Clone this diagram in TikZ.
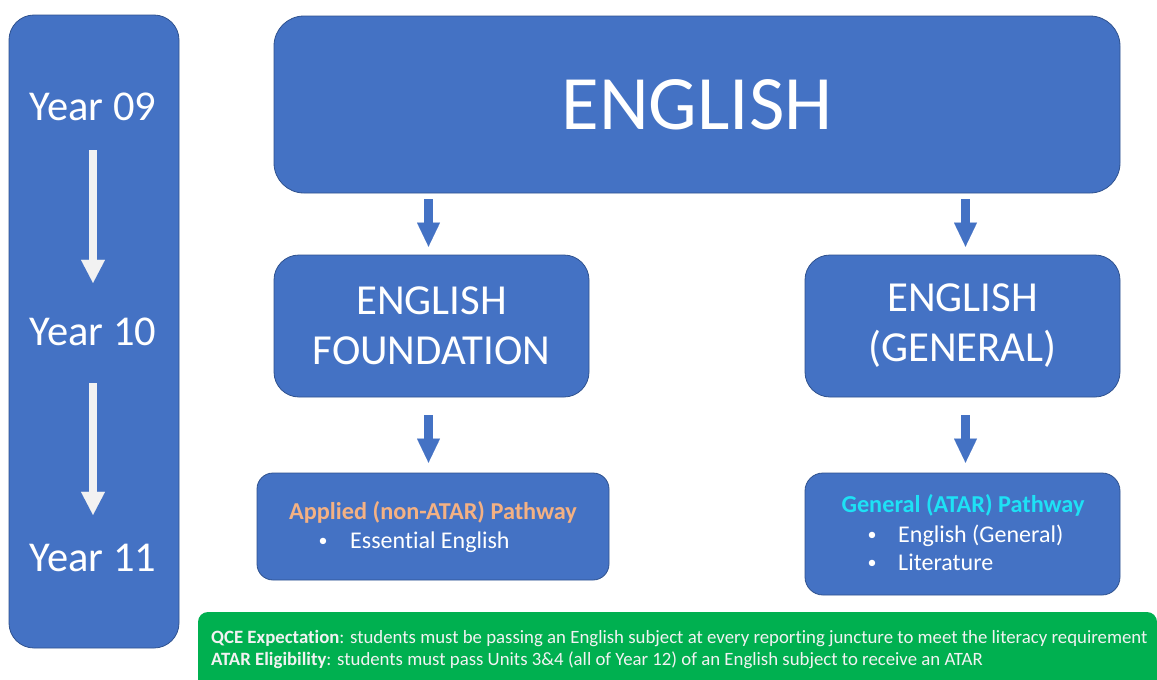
\documentclass[tikz,border=0pt]{standalone}
\usepackage{fontspec}
\setmainfont{Carlito}[Ligatures=NoCommon]
\usetikzlibrary{arrows.meta}
\definecolor{obl}{HTML}{4472C4}
\definecolor{obd}{HTML}{2F528F}
\definecolor{ogr}{HTML}{00B050}
\definecolor{peach}{HTML}{F4B183}
\definecolor{cyanx}{RGB}{30,225,245}
\definecolor{offw}{HTML}{F2F2F2}
\begin{document}
\begin{tikzpicture}[x=1pt,y=-1pt,
 box/.style={fill=obl, draw=obd, line width=0.8pt, text=white, align=center, inner sep=0pt},
 yr/.style={text=white, inner sep=0pt, text height=26pt, text depth=0pt, font=\fontsize{42.5}{50}\selectfont},
 warrow/.style={draw=offw, line width=8pt, -{Triangle[width=24pt,length=23pt,line width=0.01pt]}},
 barrow/.style={draw=obl, line width=9pt, -{Triangle[width=23pt,length=24pt,line width=0.01pt]}},
 hd/.style={inner sep=0pt, font=\bfseries\fontsize{24.3}{28}\selectfont},
 it/.style={inner sep=0pt, text=white, font=\fontsize{24}{28}\selectfont},
 bul/.style={inner sep=0pt, text=white, font=\fontsize{18}{20}\selectfont},
 nt/.style={inner sep=0pt, text=offw, font=\fontsize{18.8}{22}\selectfont},
]
\useasboundingbox (0,0) rectangle (1157,680);
\clip (0,0) rectangle (1157,680);
\fill[white] (0,0) rectangle (1157,680);

% left year column
\node[box, minimum width=170pt, minimum height=633pt, rounded corners=25pt] (col) at (94,331.5) {};
\node[yr, anchor=base] (y09) at (93,120) {Year 09};
\node[yr, anchor=base] (y10) at (93,345) {Year 10};
\node[yr, anchor=base] (y11) at (93,571) {Year 11};
\draw[warrow] ([yshift=-30pt]y09.south) -- ([yshift=36pt]y10.north);
\draw[warrow] ([yshift=-38pt]y10.south) -- ([yshift=30pt]y11.north);

% main boxes
\node[box, minimum width=846pt, minimum height=177pt, rounded corners=30pt,
      font=\fontsize{77}{84}\selectfont] (eng) at (697,104.5) {ENGLISH};
\node[box, minimum width=315pt, minimum height=142pt, rounded corners=25pt,
      font=\fontsize{42.8}{50}\selectfont] (found) at (431.5,326) {ENGLISH\\FOUNDATION};
\node[box, minimum width=315pt, minimum height=142pt, rounded corners=25pt,
      font=\fontsize{42.8}{50}\selectfont] (gen) at (962.5,326) {ENGLISH\\(GENERAL)};
\node[box, minimum width=352pt, minimum height=107pt, rounded corners=16pt] (app) at (433,526.5) {};
\node[box, minimum width=315pt, minimum height=122pt, rounded corners=18pt] (genp) at (962.5,534) {};

% pathway texts
\node[hd, text=peach, anchor=base] (apph) at (433,519) {Applied (non-ATAR) Pathway};
\node[bul, anchor=base] (appb) at (323,546) {•};
\node[it, anchor=base west] (appi) at (350,548) {Essential English};
\node[hd, text=cyanx, anchor=base] (genh) at (963,512) {General (ATAR) Pathway};
\node[bul, anchor=base] (genb1) at (872,540) {•};
\node[it, anchor=base west] (geni1) at (898,542) {English (General)};
\node[bul, anchor=base] (genb2) at (872,568) {•};
\node[it, anchor=base west] (geni2) at (898,570) {Literature};

% blue arrows
\draw[barrow] ([xshift=-3pt,yshift=-6pt]found.north |- eng.south) -- ([xshift=-3pt,yshift=8pt]found.north);
\draw[barrow] ([xshift=3pt,yshift=-6pt]gen.north |- eng.south) -- ([xshift=3pt,yshift=8pt]gen.north);
\draw[barrow] ([xshift=-3pt,yshift=-18pt]found.south) -- ([xshift=-3pt,yshift=10pt]found.south |- app.north);
\draw[barrow] ([xshift=3pt,yshift=-18pt]gen.south) -- ([xshift=3pt,yshift=10pt]genp.north);

% green note
\node[fill=ogr, minimum width=959pt, minimum height=100pt, rounded corners=10pt, inner sep=0pt] (note) at (677.5,662) {};
\node[nt, anchor=base west] (n1) at (211,643) {\textbf{QCE Expectation}: students must be passing an English subject at every reporting juncture to meet the literacy requirement};
\node[nt, anchor=base west] (n2) at (211,665.5) {\textbf{ATAR Eligibility}: students must pass Units 3\&4 (all of Year 12) of an English subject to receive an ATAR};
\end{tikzpicture}
\end{document}
